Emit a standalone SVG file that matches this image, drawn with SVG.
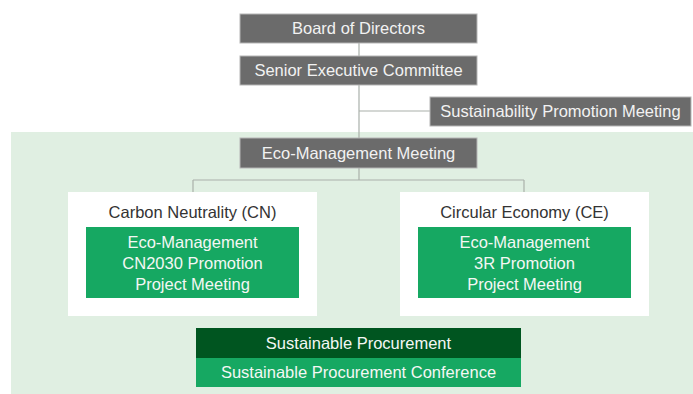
<svg xmlns="http://www.w3.org/2000/svg" width="693" height="394" viewBox="0 0 693 394">
<style>
text{font-family:"Liberation Sans",Arial,sans-serif;font-size:16.5px;text-anchor:middle}
.gbox{fill:#6b6b6b;stroke:#b5b5b5;stroke-width:1}
.gt{fill:#f2f2f2}
.wbox{fill:#ffffff}
.mbox{fill:#16a862}
.dbox{fill:#005520}
.wt{fill:#f4f7f4}
.dt{fill:#333333}
.conn line{stroke:#a9b0aa;stroke-width:1.2}
</style>
<rect id="green-area" x="11" y="132" width="682" height="262" fill="#e0efe2"/>
<g class="conn" id="connectors">
<line x1="359" y1="43" x2="359" y2="56"/>
<line x1="359" y1="85" x2="359" y2="138"/>
<line x1="359" y1="111" x2="430" y2="111"/>
<line x1="359" y1="168" x2="359" y2="180"/>
<line x1="193" y1="180" x2="524" y2="180"/>
<line x1="193" y1="180" x2="193" y2="192"/>
<line x1="524" y1="180" x2="524" y2="192"/>
</g>
<g id="board">
<rect class="gbox" x="240" y="14" width="237" height="29"/>
<text class="gt" x="358.5" y="34">Board of Directors</text>
</g>
<g id="senior">
<rect class="gbox" x="240" y="56" width="237" height="29"/>
<text class="gt" x="358.5" y="76">Senior Executive Committee</text>
</g>
<g id="sustainability-promotion">
<rect class="gbox" x="430" y="97" width="261" height="29"/>
<text class="gt" x="560.5" y="117">Sustainability Promotion Meeting</text>
</g>
<g id="eco-management">
<rect class="gbox" x="240" y="138" width="237" height="30"/>
<text class="gt" x="358.5" y="159">Eco-Management Meeting</text>
</g>
<g id="carbon-neutrality">
<rect class="wbox" x="68" y="192" width="249" height="124"/>
<text class="dt" x="192.5" y="218">Carbon Neutrality (CN)</text>
<rect class="mbox" x="86" y="227" width="213" height="71"/>
<text class="wt" x="192.5" y="248">Eco-Management</text>
<text class="wt" x="192.5" y="269">CN2030 Promotion</text>
<text class="wt" x="192.5" y="290">Project Meeting</text>
</g>
<g id="circular-economy">
<rect class="wbox" x="400" y="192" width="249" height="124"/>
<text class="dt" x="524.5" y="218">Circular Economy (CE)</text>
<rect class="mbox" x="418" y="227" width="213" height="71"/>
<text class="wt" x="524.5" y="248">Eco-Management</text>
<text class="wt" x="524.5" y="269">3R Promotion</text>
<text class="wt" x="524.5" y="290">Project Meeting</text>
</g>
<g id="sustainable-procurement">
<rect class="dbox" x="196" y="328" width="325" height="30"/>
<text class="wt" x="358.5" y="349">Sustainable Procurement</text>
<rect class="mbox" x="196" y="358" width="325" height="29"/>
<text class="wt" x="358.5" y="378">Sustainable Procurement Conference</text>
</g>
</svg>
